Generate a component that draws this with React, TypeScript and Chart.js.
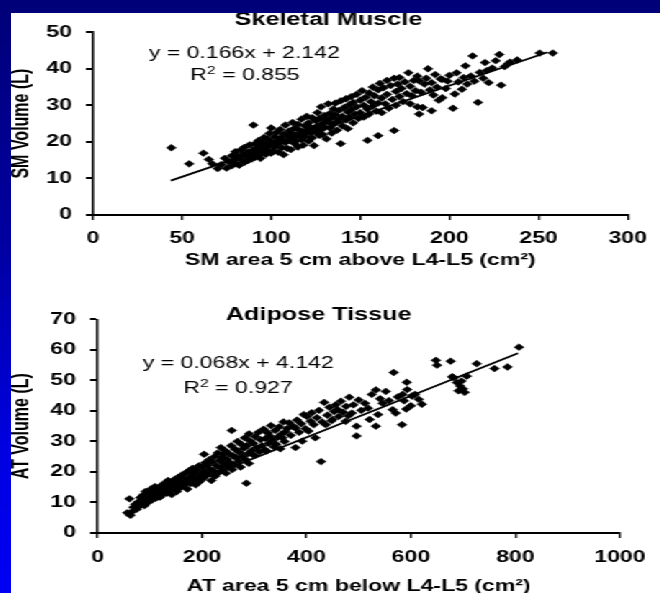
import React, { useEffect, useRef } from "react";
import { Chart, registerables } from "chart.js";

Chart.register(...registerables);

const STRETCH = 1.44;
const FONT = "'Liberation Sans', Arial, Helvetica, sans-serif";

// ---------- Skeletal muscle: [SM area (cm²), SM volume (L)] ----------
const smPoints: [number, number][] = [
  [44, 18.4], [54, 14.0], [62, 16.9], [65, 15.2], [67, 14.0], [70, 12.7], [72, 13.8], [74, 15.5], [75, 12.8], [76, 14.6],
  [78, 16.2], [78, 13.5], [79, 15.0], [80, 17.3], [80, 14.2], [81, 16.0], [82, 13.6], [83, 17.8], [83, 15.2], [84, 16.6],
  [85, 14.4], [85, 18.5], [86, 16.0], [87, 17.2], [87, 14.9], [88, 19.2], [88, 16.4], [89, 15.3], [90, 24.6], [90, 17.9],
  [90, 16.8], [91, 19.5], [91, 15.8], [92, 18.3], [92, 17.0], [93, 20.4], [93, 16.2], [94, 18.8], [94, 15.5], [95, 19.9],
  [95, 17.4], [96, 21.2], [96, 18.1], [97, 16.6], [97, 19.4], [98, 20.8], [98, 17.8], [99, 22.3], [99, 18.9], [100, 16.9],
  [100, 20.1], [100, 23.8], [101, 19.2], [101, 17.5], [102, 21.4], [102, 18.6], [103, 22.6], [103, 20.0], [104, 17.2], [104, 19.5],
  [105, 23.4], [105, 21.0], [106, 18.4], [106, 20.7], [107, 22.1], [107, 16.5], [108, 24.6], [108, 19.8], [109, 21.6], [109, 18.2],
  [110, 23.0], [110, 20.4], [111, 22.4], [111, 17.9], [112, 25.3], [112, 21.2], [113, 19.6], [113, 23.7], [114, 22.0], [114, 20.3],
  [115, 24.8], [115, 18.6], [116, 21.8], [116, 23.2], [117, 26.2], [117, 20.6], [118, 22.8], [118, 19.1], [119, 24.4], [119, 21.5],
  [120, 27.0], [120, 23.1], [121, 20.2], [121, 25.2], [122, 22.4], [122, 24.0], [123, 26.6], [123, 21.1], [124, 23.6], [124, 19.0],
  [125, 25.8], [125, 22.6], [126, 28.0], [126, 24.4], [127, 21.8], [127, 26.4], [128, 23.3], [128, 29.6], [129, 25.1], [129, 22.0],
  [130, 27.2], [130, 24.0], [131, 26.0], [131, 20.8], [132, 30.4], [132, 25.4], [133, 23.8], [133, 27.8], [134, 26.6], [134, 22.4],
  [135, 29.0], [135, 24.8], [136, 27.4], [136, 30.6], [137, 25.6], [137, 23.2], [138, 28.6], [138, 26.2], [139, 19.5], [139, 31.2],
  [140, 27.0], [140, 24.4], [141, 29.4], [142, 26.0], [142, 31.8], [143, 28.2], [143, 23.6], [144, 30.2], [144, 26.8], [145, 32.4],
  [145, 28.8], [146, 25.2], [146, 30.8], [147, 27.6], [148, 33.0], [148, 29.6], [149, 26.4], [150, 31.4], [150, 28.0], [151, 34.0],
  [152, 30.0], [152, 26.8], [153, 32.2], [154, 20.4], [154, 29.0], [155, 33.4], [155, 27.6], [156, 31.0], [157, 35.0], [157, 29.8],
  [158, 32.6], [159, 28.4], [160, 21.7], [160, 34.2], [160, 30.6], [161, 36.0], [162, 32.0], [162, 28.0], [163, 34.8], [164, 30.4],
  [165, 36.8], [165, 33.0], [166, 29.2], [167, 35.4], [168, 31.6], [169, 23.1], [169, 37.4], [170, 33.8], [170, 30.0], [171, 35.8],
  [172, 37.6], [172, 32.4], [173, 34.6], [174, 31.0], [175, 36.4], [176, 33.2], [177, 38.9], [178, 35.2], [178, 30.4], [179, 32.6],
  [180, 36.8], [181, 34.0], [182, 29.6], [182, 38.0], [183, 36.7], [183, 27.6], [184, 33.6], [185, 29.4], [186, 35.8], [187, 37.4],
  [188, 40.0], [189, 34.2], [190, 28.5], [190, 36.2], [191, 32.8], [192, 38.4], [193, 35.0], [194, 31.4], [195, 37.2], [196, 37.1],
  [196, 32.1], [198, 34.6], [199, 36.6], [200, 38.2], [202, 29.2], [203, 33.1], [204, 38.9], [205, 36.4], [207, 34.4], [208, 37.6],
  [209, 40.8], [210, 35.8], [212, 38.0], [213, 43.5], [214, 36.6], [216, 30.8], [217, 39.0], [219, 37.4], [220, 41.7], [221, 39.5],
  [222, 36.2], [224, 40.2], [226, 42.2], [228, 43.9], [229, 35.5], [231, 40.6], [233, 41.4], [234, 41.8], [238, 42.4], [250.6, 44.3],
  [258, 44.3],
];
const smFitX = [43.7, 255];
const smFitY = [9.4, 44.5];
const smXTicks = [0, 50, 100, 150, 200, 250, 300];
const smYTicks = [0, 10, 20, 30, 40, 50];

// ---------- Adipose tissue: [AT area (cm²), AT volume (L)] ----------
const atPoints: [number, number][] = [
  [57, 6.6], [61, 11.2], [63, 5.8], [66, 7.0], [70, 8.6], [72, 9.4], [75, 7.8], [78, 10.2], [80, 8.8], [82, 11.6],
  [85, 9.6], [87, 12.4], [88, 10.6], [90, 9.0], [92, 13.6], [94, 11.2], [96, 10.0], [98, 12.8], [100, 11.6], [102, 14.4],
  [104, 10.8], [106, 13.0], [108, 12.0], [110, 15.2], [112, 11.4], [114, 13.8], [115, 12.6], [118, 14.6], [120, 11.8], [122, 13.4],
  [124, 15.8], [125, 12.8], [128, 14.2], [130, 16.4], [132, 13.0], [134, 15.0], [135, 17.2], [138, 14.0], [140, 15.8], [142, 12.6],
  [144, 16.8], [145, 14.6], [148, 17.6], [150, 15.4], [152, 13.6], [154, 18.2], [155, 16.2], [158, 14.8], [160, 17.0], [162, 19.0],
  [164, 15.6], [165, 18.0], [168, 16.6], [170, 19.8], [172, 14.4], [174, 17.8], [175, 20.4], [178, 16.2], [180, 18.8], [182, 21.2],
  [184, 17.4], [185, 19.6], [188, 15.8], [190, 20.6], [192, 18.2], [194, 22.0], [195, 16.8], [198, 19.4], [200, 21.6], [202, 17.8],
  [204, 25.8], [205, 20.2], [206, 23.0], [208, 18.8], [210, 22.2], [212, 19.6], [214, 24.0], [215, 21.0], [218, 17.2], [220, 23.2],
  [222, 20.4], [224, 25.0], [225, 18.6], [228, 22.0], [230, 26.2], [232, 19.8], [234, 23.8], [236, 28.0], [236, 21.4], [238, 24.8],
  [240, 20.6], [241, 25.8], [242, 22.8], [244, 27.0], [246, 19.6], [248, 24.2], [250, 21.8], [252, 26.0], [254, 23.0], [256, 28.6],
  [257, 33.6], [258, 20.8], [260, 25.2], [262, 22.4], [264, 27.4], [266, 24.7], [268, 30.0], [270, 23.6], [272, 26.4], [274, 21.6],
  [276, 29.0], [278, 25.0], [280, 27.8], [282, 31.2], [284, 24.0], [285, 16.3], [286, 28.6], [288, 26.0], [290, 32.5], [290, 22.8],
  [292, 30.2], [295, 27.0], [298, 29.4], [300, 25.4], [302, 31.6], [305, 28.0], [308, 33.0], [310, 26.6], [312, 30.6], [315, 28.6],
  [318, 34.0], [320, 27.2], [322, 31.0], [324, 26.9], [326, 32.8], [328, 29.4], [330, 31.8], [332, 35.2], [335, 30.4], [338, 28.2],
  [340, 33.6], [342, 29.1], [345, 31.4], [348, 34.8], [350, 27.6], [352, 32.4], [354, 31.2], [356, 36.4], [358, 30.0], [360, 33.2],
  [363, 34.2], [367, 36.1], [370, 32.0], [374, 35.0], [379, 34.4], [379, 28.0], [382, 37.0], [386, 33.0], [390, 35.8], [392, 30.1],
  [395, 38.8], [398, 34.2], [401, 38.2], [404, 33.4], [408, 36.6], [410, 39.4], [414, 35.5], [417, 31.2], [420, 37.8], [424, 40.2],
  [428, 23.4], [430, 36.4], [434, 42.8], [437, 35.5], [440, 38.6], [444, 41.2], [448, 36.8], [450, 37.2], [453, 39.8], [456, 42.0],
  [460, 40.4], [462, 38.2], [466, 43.2], [470, 39.6], [475, 36.6], [476, 41.5], [480, 38.4], [482, 44.5], [487, 39.3], [490, 42.0],
  [496, 31.8], [496, 35.0], [500, 43.6], [505, 40.2], [512, 42.5], [518, 40.9], [521, 37.2], [525, 45.4], [533, 46.9], [533, 35.0],
  [537, 38.8], [541, 44.0], [546, 42.5], [552, 46.4], [558, 43.4], [565, 40.4], [567, 52.6], [571, 39.3], [575, 44.6], [583, 35.5],
  [584, 45.4], [587, 43.3], [591, 40.6], [592, 49.4], [593, 47.0], [600, 41.7], [602, 44.9], [608, 45.4], [615, 43.8], [621, 42.2],
  [648, 56.6], [650, 55.0], [676, 56.3], [679, 51.2], [682, 50.9], [688, 49.3], [691, 46.6], [694, 48.2], [697, 49.8], [700, 47.2],
  [703, 46.1], [707, 51.4], [726, 55.5], [760, 53.9], [785, 54.4], [807, 60.9],
];
const atFitX = [60, 805];
const atFitY = [8.2, 58.9];
const atXTicks = [0, 200, 400, 600, 800, 1000];
const atYTicks = [0, 10, 20, 30, 40, 50, 60, 70];

type TextItem = { text: string; sup?: string; rest?: string; font: string; supFont?: string; x: number; y: number };

type PanelSpec = {
  points: [number, number][];
  fitX: number[];
  fitY: number[];
  xTicks: number[];
  yTicks: number[];
  xTitle: string;
  yTitle: string;
  padTop: number;
  padRight: number;
  yWidth: number;
  xHeight: number;
  xTickLen: number;
  xTickPad: number;
  yTickLen: number;
  yTickPad: number;
  xTitleBottom: number;
  texts: TextItem[];
};

const EQ_FONT = `16px ${FONT}`;
const SUP_FONT = `11px ${FONT}`;

const SM_SPEC: PanelSpec = {
  points: smPoints,
  fitX: smFitX,
  fitY: smFitY,
  xTicks: smXTicks,
  yTicks: smYTicks,
  xTitle: "SM area 5 cm above L4-L5 (cm²)",
  yTitle: "SM Volume (L)",
  padTop: 18,
  padRight: 14.2,
  yWidth: 56.9,
  xHeight: 78,
  xTickLen: 5,
  xTickPad: 9.4,
  yTickLen: 4.9,
  yTickPad: 9.6,
  xTitleBottom: 24,
  texts: [
    { text: "Skeletal Muscle", font: `bold 17.5px ${FONT}`, x: 220.5, y: 12 },
    { text: "y = 0.166x + 2.142", font: EQ_FONT, x: 162, y: 45.3 },
    { text: "R", sup: "2", rest: " = 0.855", font: EQ_FONT, supFont: SUP_FONT, x: 162.5, y: 67 },
  ],
};

const AT_SPEC: PanelSpec = {
  points: atPoints,
  fitX: atFitX,
  fitY: atFitY,
  xTicks: atXTicks,
  yTicks: atYTicks,
  xTitle: "AT area 5 cm below L4-L5 (cm²)",
  yTitle: "AT Volume (L)",
  padTop: 17,
  padRight: 18.7,
  yWidth: 60.1,
  xHeight: 67,
  xTickLen: 5,
  xTickPad: 10.4,
  yTickLen: 5.2,
  yTickPad: 9.8,
  xTitleBottom: 5,
  texts: [
    { text: "Adipose Tissue", font: `bold 17.5px ${FONT}`, x: 213.7, y: 20 },
    { text: "y = 0.068x + 4.142", font: EQ_FONT, x: 157.8, y: 68.3 },
    { text: "R", sup: "2", rest: " = 0.927", font: EQ_FONT, supFont: SUP_FONT, x: 157.6, y: 93.3 },
  ],
};

function buildChart(canvas: HTMLCanvasElement, s: PanelSpec): Chart {
  const textPlugin = {
    id: "panelTexts",
    afterDraw(chart: any) {
      const ctx = chart.ctx as CanvasRenderingContext2D;
      ctx.save();
      ctx.fillStyle = "#000";
      ctx.textBaseline = "alphabetic";
      for (const t of s.texts) {
        if (!t.sup) {
          ctx.font = t.font;
          ctx.textAlign = "center";
          ctx.fillText(t.text, t.x, t.y);
          continue;
        }
        // text with a superscript part, centred as a whole
        ctx.font = t.font;
        const w1 = ctx.measureText(t.text).width;
        const w3 = ctx.measureText(t.rest || "").width;
        ctx.font = t.supFont || t.font;
        const w2 = ctx.measureText(t.sup).width;
        let x = t.x - (w1 + w2 + w3) / 2;
        ctx.textAlign = "left";
        ctx.font = t.font;
        ctx.fillText(t.text, x, t.y);
        x += w1;
        ctx.font = t.supFont || t.font;
        ctx.fillText(t.sup, x, t.y - 6);
        x += w2;
        ctx.font = t.font;
        ctx.fillText(t.rest || "", x, t.y);
      }
      ctx.restore();
    },
  };

  const tickFont = { family: FONT, size: 16, weight: 700 };
  const titleFont = { family: FONT, size: 16, weight: 700, lineHeight: 1 };

  return new Chart(canvas, {
    type: "scatter",
    data: {
      datasets: [
        {
          data: s.fitX.map((x, i) => ({ x, y: s.fitY[i] })),
          showLine: true,
          borderColor: "#000",
          borderWidth: 1.8,
          pointRadius: 0,
          pointHoverRadius: 0,
        } as any,
        {
          data: s.points.map(([x, y]) => ({ x, y })),
          pointStyle: "rectRot",
          pointRadius: 3.4,
          pointHoverRadius: 3.4,
          backgroundColor: "#000",
          borderColor: "#000",
          borderWidth: 0.5,
        } as any,
      ],
    },
    options: {
      animation: false,
      responsive: false,
      devicePixelRatio: 1,
      events: [],
      layout: { padding: { top: s.padTop, right: s.padRight, left: 0, bottom: 0 } },
      plugins: {
        legend: { display: false },
        tooltip: { enabled: false },
        title: { display: false },
      },
      scales: {
        x: {
          type: "linear",
          min: s.xTicks[0],
          max: s.xTicks[s.xTicks.length - 1],
          afterBuildTicks: (sc: any) => {
            sc.ticks = s.xTicks.map((v) => ({ value: v }));
          },
          afterFit: (sc: any) => {
            sc.height = s.xHeight;
          },
          ticks: {
            autoSkip: false,
            maxRotation: 0,
            color: "#000",
            font: tickFont,
            padding: s.xTickPad,
            callback: (v: any) => String(v),
          },
          grid: {
            display: true,
            drawOnChartArea: false,
            drawTicks: true,
            tickLength: s.xTickLen,
            color: "#000",
            lineWidth: 1.4,
          },
          border: { display: true, color: "#000", width: 2 },
          title: {
            display: true,
            text: s.xTitle,
            color: "#000",
            font: titleFont,
            padding: { top: 0, bottom: s.xTitleBottom },
          },
        },
        y: {
          type: "linear",
          min: s.yTicks[0],
          max: s.yTicks[s.yTicks.length - 1],
          afterBuildTicks: (sc: any) => {
            sc.ticks = s.yTicks.map((v) => ({ value: v }));
          },
          afterFit: (sc: any) => {
            sc.width = s.yWidth;
          },
          ticks: {
            color: "#000",
            font: tickFont,
            padding: s.yTickPad,
            callback: (v: any) => String(v),
          },
          grid: {
            display: true,
            drawOnChartArea: false,
            drawTicks: true,
            tickLength: s.yTickLen,
            color: "#000",
            lineWidth: 2,
          },
          border: { display: true, color: "#000", width: 1.6 },
          title: {
            display: true,
            text: s.yTitle,
            color: "#000",
            font: { family: FONT, size: 16, weight: 700, lineHeight: 1 },
            padding: { top: 0, bottom: 0 },
          },
        },
      },
    } as any,
    plugins: [textPlugin],
  });
}

export default function App() {
  const smRef = useRef<HTMLCanvasElement>(null);
  const atRef = useRef<HTMLCanvasElement>(null);

  useEffect(() => {
    const a = buildChart(smRef.current!, SM_SPEC);
    const b = buildChart(atRef.current!, AT_SPEC);
    return () => {
      a.destroy();
      b.destroy();
    };
  }, []);

  return (
    <div
      style={{
        position: "fixed",
        left: 0,
        top: 0,
        width: 660,
        height: 593,
        overflow: "hidden",
        background: "linear-gradient(to bottom, #000078 0%, #0000a0 40%, #0000e0 75%, #0000f4 100%)",
      }}
    >
      <div style={{ position: "absolute", left: 11, top: 13, right: 0, bottom: 0, background: "#fff" }} />
      <div
        style={{
          position: "absolute",
          left: 11,
          top: 0,
          width: 451,
          height: 593,
          transform: `scaleX(${STRETCH})`,
          transformOrigin: "0 0",
        }}
      >
        <canvas
          ref={smRef}
          width={451}
          height={280}
          style={{ position: "absolute", left: 0, top: 13, width: 451, height: 280 }}
        />
        <canvas
          ref={atRef}
          width={451}
          height={300}
          style={{ position: "absolute", left: 0, top: 300, width: 451, height: 300 }}
        />
      </div>
    </div>
  );
}
